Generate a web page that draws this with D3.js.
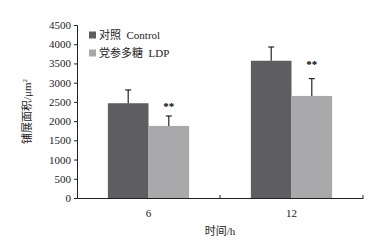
<!DOCTYPE html>
<html><head><meta charset="utf-8">
<script src="https://cdn.jsdelivr.net/npm/d3@7"></script>
<style>body{margin:0;background:#fff}svg{display:block}</style>
</head><body>
<script>
const categories = ["6", "12"];
const seriesNames = ["对照  Control", "党参多糖  LDP"];
const controlValues = [2465, 3570];
const controlErrors = [345, 358];
const ldpValues = [1875, 2655];
const ldpErrors = [258, 450];
const significance = ["**", "**"];
const yTicks = [0, 500, 1000, 1500, 2000, 2500, 3000, 3500, 4000, 4500];
const colors = ["#5e5e62", "#a9a9ab"];

const W = 374, H = 242;
const m = {left: 77, right: 11, top: 25, bottom: 44};
const svg = d3.select("body").append("svg").attr("width", W).attr("height", H);
const serif = "'Liberation Serif','Times New Roman',serif";
const cjk = "'Liberation Serif','Noto Sans CJK SC',serif";

const x = d3.scaleBand().domain(categories).range([m.left, W - m.right]);
const xs = d3.scaleBand().domain([0, 1]).range([0, x.bandwidth()]).paddingOuter(0.76).paddingInner(0);
const y = d3.scaleLinear().domain([0, 4500]).range([H - m.bottom, m.top]);

const series = [
  {vals: controlValues, errs: controlErrors},
  {vals: ldpValues, errs: ldpErrors}
];

// bars
series.forEach((s, si) => {
  svg.append("g").selectAll("rect").data(categories).join("rect")
    .attr("x", c => x(c) + xs(si))
    .attr("y", (c, i) => y(s.vals[i]))
    .attr("width", xs.bandwidth())
    .attr("height", (c, i) => y(0) - y(s.vals[i]))
    .attr("fill", colors[si]);
  const g = svg.append("g").attr("stroke", "#111").attr("stroke-width", 1.1);
  categories.forEach((c, i) => {
    const cx = x(c) + xs(si) + xs.bandwidth() / 2;
    g.append("line").attr("x1", cx).attr("x2", cx)
      .attr("y1", y(s.vals[i])).attr("y2", y(s.vals[i] + s.errs[i]));
    g.append("line").attr("x1", cx - 3).attr("x2", cx + 3)
      .attr("y1", y(s.vals[i] + s.errs[i])).attr("y2", y(s.vals[i] + s.errs[i]));
  });
});

// significance stars
svg.append("g").selectAll("text").data(categories).join("text")
  .attr("x", c => x(c) + xs(1) + xs.bandwidth() / 2)
  .attr("y", (c, i) => y(controlValues[i]) + 7)
  .attr("text-anchor", "middle")
  .attr("font-family", serif).attr("font-size", 11).attr("font-weight", "bold")
  .attr("fill", "#000")
  .text((c, i) => significance[i]);

// y axis
const yAxis = svg.append("g").attr("transform", `translate(${m.left},0)`)
  .call(d3.axisLeft(y).tickValues(yTicks).tickFormat(d3.format("d")).tickSize(3).tickPadding(3));
yAxis.select(".domain").attr("stroke", "#222");
yAxis.selectAll(".tick line").attr("stroke", "#222");
yAxis.selectAll("text").attr("font-family", serif).attr("font-size", 11).attr("fill", "#222");

// x axis
const xAxis = svg.append("g").attr("transform", `translate(0,${H - m.bottom})`)
  .call(d3.axisBottom(x).tickSize(0).tickPadding(11));
xAxis.select(".domain").attr("stroke", "#222");
xAxis.selectAll("text").attr("font-family", serif).attr("font-size", 11).attr("fill", "#222");
const bounds = [m.left + x.step(), W - m.right];
svg.append("g").selectAll("line").data(bounds).join("line")
  .attr("x1", d => d).attr("x2", d => d)
  .attr("y1", H - m.bottom).attr("y2", H - m.bottom - 3)
  .attr("stroke", "#222");

// axis titles
svg.append("text").attr("x", (m.left + W - m.right) / 2).attr("y", 235)
  .attr("text-anchor", "middle").attr("font-family", cjk).attr("font-size", 11).attr("fill", "#222")
  .text("时间/h");
const yt = svg.append("text")
  .attr("transform", `translate(31,${(m.top + H - m.bottom) / 2}) rotate(-90)`)
  .attr("text-anchor", "middle").attr("font-family", cjk).attr("font-size", 11).attr("fill", "#222");
yt.append("tspan").text("铺展面积/μm");
yt.append("tspan").attr("dy", -4).attr("font-size", 7).text("2");

// legend
const lg = svg.append("g");
seriesNames.forEach((n, i) => {
  const ly = 35 + i * 18;
  lg.append("rect").attr("x", 89).attr("y", ly - 3.5).attr("width", 7).attr("height", 7).attr("fill", colors[i]);
  lg.append("text").attr("x", 99).attr("y", ly + 4)
    .attr("font-family", cjk).attr("font-size", 11).attr("fill", "#222")
    .attr("xml:space", "preserve").style("white-space", "pre").text(n);
});
</script>
</body></html>
